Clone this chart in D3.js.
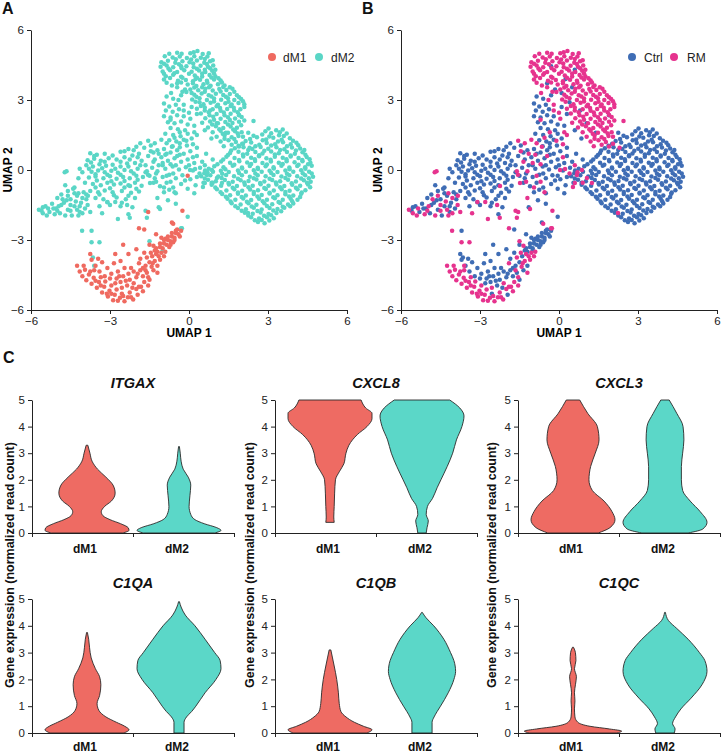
<!DOCTYPE html>
<html><head><meta charset="utf-8">
<script src="https://cdn.jsdelivr.net/npm/d3@7"></script>
<style>body{margin:0;background:#fff}</style>
</head><body>
<svg id="c" width="722" height="756"></svg>
<script>
// ---------- DATA ----------
const umapTicks = [-6, -3, 0, 3, 6];
const clusterNames = ["dM1", "dM2"];
const conditionNames = ["Ctrl", "RM"];

// UMAP cells, grouped by cluster (dM1/dM2) and condition (Ctrl/RM): [UMAP1, UMAP2]
const dm2Ctrl = [
[3.02,1.78],[3.31,1.7],[3.56,1.74],[2.78,1.52],[3.12,1.58],[3.42,1.49],[3.71,1.56],
[2.32,1.33],[2.58,1.4],[2.93,1.31],[3.2,1.38],[3.52,1.3],[3.83,1.36],
[2.02,1.12],[2.36,1.18],[2.67,1.08],[2.95,1.16],[3.27,1.1],[3.57,1.19],[3.86,1.1],[4.08,1.17],
[1.74,0.93],[2.07,0.98],[2.41,0.9],[2.72,0.99],[3.01,0.91],[3.32,0.97],[3.62,0.89],[3.91,0.96],[4.22,0.92],
[1.56,0.73],[1.88,0.78],[2.21,0.7],[2.52,0.77],[2.79,0.71],[3.12,0.79],[3.41,0.72],[3.72,0.77],[4.02,0.7],[4.31,0.76],
[1.42,0.57],[1.73,0.51],[2.06,0.58],[2.36,0.52],[2.66,0.59],[2.94,0.5],[3.26,0.57],[3.56,0.52],[3.86,0.58],[4.16,0.51],[4.47,0.56],
[1.22,0.36],[1.56,0.31],[1.91,0.38],[2.21,0.32],[2.51,0.39],[2.79,0.3],[3.11,0.36],[3.41,0.31],[3.71,0.38],[4.01,0.33],[4.31,0.37],[4.61,0.31],
[0.96,0.16],[1.31,0.12],[1.66,0.18],[2.01,0.11],[2.31,0.17],[2.61,0.1],[2.91,0.16],[3.21,0.12],[3.51,0.18],[3.81,0.11],[4.11,0.17],[4.41,0.12],[4.66,0.18],
[0.61,-0.02],[0.91,-0.08],[1.21,-0.03],[1.51,-0.09],[1.86,-0.02],[2.16,-0.07],[2.46,-0.01],[2.76,-0.08],[3.06,-0.03],[3.36,-0.09],[3.66,-0.02],[3.96,-0.07],[4.26,-0.01],[4.56,-0.08],
[0.46,-0.27],[0.81,-0.22],[1.11,-0.28],[1.41,-0.21],[1.71,-0.27],[2.01,-0.23],[2.31,-0.29],[2.61,-0.22],[2.91,-0.27],[3.21,-0.21],[3.51,-0.28],[3.81,-0.23],[4.11,-0.27],[4.41,-0.22],[4.71,-0.29],
[0.72,-0.42],[1.02,-0.48],[1.36,-0.43],[1.66,-0.5],[1.96,-0.44],[2.26,-0.47],[2.56,-0.41],[2.86,-0.49],[3.16,-0.43],[3.46,-0.48],[3.76,-0.42],[4.06,-0.49],[4.36,-0.44],[4.62,-0.5],
[0.86,-0.63],[1.22,-0.68],[1.52,-0.62],[1.82,-0.69],[2.12,-0.63],[2.42,-0.68],[2.72,-0.61],[3.02,-0.67],[3.32,-0.62],[3.62,-0.69],[3.92,-0.63],[4.22,-0.68],[4.52,-0.62],
[1.06,-0.83],[1.42,-0.88],[1.72,-0.82],[2.02,-0.89],[2.32,-0.84],[2.62,-0.87],[2.92,-0.81],[3.22,-0.88],[3.52,-0.83],[3.82,-0.89],[4.12,-0.82],[4.42,-0.87],
[1.26,-1.03],[1.56,-1.08],[1.86,-1.02],[2.16,-1.09],[2.46,-1.03],[2.76,-1.07],[3.06,-1.01],[3.36,-1.08],[3.66,-1.04],[3.96,-1.09],[4.26,-1.02],
[1.46,-1.23],[1.76,-1.28],[2.06,-1.22],[2.36,-1.29],[2.66,-1.23],[2.96,-1.27],[3.26,-1.21],[3.56,-1.28],[3.86,-1.23],[4.12,-1.27],
[1.62,-1.43],[1.96,-1.48],[2.26,-1.42],[2.56,-1.49],[2.86,-1.43],[3.16,-1.47],[3.46,-1.41],[3.76,-1.48],[3.96,-1.44],
[1.86,-1.63],[2.16,-1.68],[2.46,-1.62],[2.76,-1.69],[3.06,-1.63],[3.36,-1.67],[3.62,-1.62],
[2.12,-1.83],[2.42,-1.88],[2.72,-1.82],[3.02,-1.89],[3.32,-1.84],
[2.36,-2.03],[2.66,-2.08],[2.96,-2.02],[3.22,-2.07],[2.62,-2.23],[2.87,-2.28],
[2.9,1.66],[3.45,1.62],[2.45,1.47],[3.05,1.44],[3.6,1.46],[2.15,1.24],[2.8,1.27],[3.38,1.22],[3.95,1.25],
[1.88,1.04],[2.52,1.02],[3.12,1.05],[3.72,1.02],[4.15,1.06],[1.6,0.84],[2.25,0.86],[2.86,0.83],[3.46,0.86],[4.06,0.84],[4.38,0.86],
[1.48,0.64],[2.05,0.66],[2.66,0.63],[3.26,0.66],[3.86,0.62],[4.42,0.65],[1.3,0.45],[1.9,0.43],[2.5,0.46],[3.1,0.44],[3.7,0.46],[4.3,0.43],[4.58,0.46],
[1.08,0.25],[1.72,0.23],[2.36,0.26],[2.96,0.24],[3.56,0.26],[4.16,0.23],[4.52,0.25],
[0.75,0.05],[1.38,0.03],[2.02,0.06],[2.62,0.04],[3.22,0.06],[3.82,0.03],[4.42,0.05],
[0.58,-0.14],[1.26,-0.16],[1.9,-0.13],[2.52,-0.15],[3.12,-0.13],[3.72,-0.16],[4.32,-0.14],[4.66,-0.15],
[0.6,-0.36],[1.24,-0.34],[1.86,-0.37],[2.46,-0.35],[3.06,-0.37],[3.66,-0.34],[4.26,-0.36],[4.55,-0.35],
[0.86,-0.55],[1.5,-0.56],[2.1,-0.54],[2.7,-0.56],[3.3,-0.54],[3.9,-0.57],[4.48,-0.55],
[1.0,-0.75],[1.66,-0.76],[2.26,-0.74],[2.86,-0.77],[3.46,-0.74],[4.06,-0.76],[4.6,-0.74],
[1.2,-0.95],[1.86,-0.96],[2.46,-0.94],[3.06,-0.97],[3.66,-0.94],[4.28,-0.96],
[1.4,-1.15],[2.0,-1.16],[2.6,-1.14],[3.2,-1.17],[3.8,-1.14],[4.22,-1.16],
[1.58,-1.35],[2.2,-1.36],[2.8,-1.34],[3.4,-1.37],[3.92,-1.34],
[1.76,-1.55],[2.38,-1.56],[2.96,-1.54],[3.56,-1.57],[3.84,-1.55],
[2.0,-1.75],[2.6,-1.76],[3.2,-1.74],[3.5,-1.77],[2.25,-1.95],[2.85,-1.96],[3.12,-1.94],[2.5,-2.15],[2.76,-2.14],[3.05,-2.16],
[-0.85,3.15],[-0.6,3.05],[-0.95,2.85],[-0.75,2.72],[-0.5,2.8],[-0.88,2.55],[-0.62,2.5],[-0.38,2.6],[-0.95,2.3],[-0.7,2.25],
[-0.45,2.35],[-0.2,2.3],[-0.8,2.05],[-0.55,2.0],[-0.3,2.08],[-0.05,1.95],[-0.7,1.8],[-0.42,1.75],[-0.15,1.7],[-0.9,1.55],
[-0.6,1.5],[-0.32,1.45],[-0.05,1.55],[-0.75,1.28],[-0.48,1.22],[-0.2,1.3],[0.1,1.35],[-0.62,1.02],[-0.35,0.98],[-0.08,1.05],
[-0.45,3.72],[-0.15,3.45],[0.25,3.9],[0.6,4.3],[-0.3,4.45],[0.1,3.3],[-0.3,3.2],[0.4,2.9],[0.1,2.7],[0.8,2.55],
[0.5,3.55],[1.05,2.0],[0.3,2.4],[0.6,1.7],[0.2,1.9],[1.4,1.6],[1.9,2.35],[2.25,1.6],[0.85,1.35],
[-1.7,0.95],[-1.45,1.05],[-1.2,0.85],[-0.95,0.9],[-0.7,0.75],[-0.45,0.85],[-0.2,0.7],[0.05,0.8],[0.3,0.6],[-1.55,0.6],
[-1.3,0.45],[-1.05,0.55],[-0.8,0.4],[-0.55,0.5],[-0.3,0.35],[-0.05,0.45],[0.2,0.3],[0.5,0.35],[-1.65,0.2],[-1.4,0.1],
[-1.15,0.2],[-0.9,0.05],[-0.62,0.15],[-0.38,0.02],[-0.12,0.12],[0.15,-0.02],[0.42,0.1],[-1.5,-0.25],[-1.25,-0.15],[-1.0,-0.3],
[-0.75,-0.2],[-0.5,-0.35],[-0.25,-0.22],[0.05,-0.4],[0.3,-0.3],[-1.35,-0.55],[-1.1,-0.7],[-0.85,-0.55],[-0.6,-0.75],[-0.3,-0.6],
[-0.05,-0.8],[0.25,-0.65],[-0.95,-0.95],[-0.5,-1.0],[0.55,-0.55],[0.2,-1.0],
[-1.35,0.75],[-0.85,0.7],[-0.35,0.65],[-1.0,0.2],[-0.5,0.2],[0.0,0.2],[-1.3,-0.35],[-0.6,-0.15],[-0.15,-0.45],[-0.75,-0.85],
[-0.35,1.15],[0.3,0.95],[0.65,0.7],[0.9,0.45],
[-3.75,0.72],[-3.5,0.65],[-3.2,0.7],[-2.3,0.9],[-2.0,1.0],[-1.85,1.15],[-2.6,0.78],
[-3.85,0.42],[-3.6,0.48],[-3.35,0.4],[-3.05,0.5],[-2.75,0.45],[-2.45,0.55],[-2.15,0.62],[-1.9,0.7],
[-3.9,0.2],[-3.65,0.15],[-3.4,0.25],[-3.15,0.18],[-2.9,0.22],[-2.6,0.15],[-2.35,0.28],[-2.05,0.3],[-1.8,0.4],
[-3.7,-0.08],[-3.45,-0.02],[-3.2,-0.1],[-2.95,-0.03],[-2.7,-0.12],[-2.45,0.0],[-2.2,-0.05],[-1.95,0.05],
[-3.8,-0.32],[-3.55,-0.28],[-3.25,-0.35],[-3.0,-0.27],[-2.75,-0.38],[-2.5,-0.3],[-2.25,-0.35],[-2.0,-0.25],[-1.75,-0.3],
[-3.65,-0.6],[-3.35,-0.65],[-3.1,-0.55],[-2.85,-0.62],[-2.6,-0.58],[-2.3,-0.65],[-2.05,-0.55],[-1.8,-0.68],
[-3.75,-0.9],[-3.45,-0.95],[-3.2,-0.88],[-2.9,-0.95],[-2.55,-0.9],[-2.2,-0.98],[-1.9,-0.92],
[-3.55,-1.2],[-3.25,-1.25],[-2.75,-1.18],[-2.4,-1.25],[-2.05,-1.2],[-3.4,-1.55],[-3.0,-1.5],[-2.6,-1.55],[-2.15,-1.6],
[-3.6,0.6],[-2.9,0.62],[-2.45,0.8],[-2.1,0.85],[-3.72,0.32],[-3.2,0.35],[-2.6,0.35],[-2.25,0.45],[-1.95,0.55],
[-3.8,0.05],[-3.3,0.08],[-2.8,0.05],[-2.3,0.15],[-1.85,0.2],[-3.55,-0.18],[-3.1,-0.2],[-2.6,-0.2],[-2.1,-0.15],[-1.65,-0.1],
[-3.5,-0.45],[-2.95,-0.48],[-2.45,-0.47],[-1.95,-0.42],[-3.55,-0.75],[-3.0,-0.78],[-2.45,-0.75],[-2.0,-0.8],
[-3.4,-1.05],[-2.85,-1.08],[-2.3,-1.1],[-3.1,-1.38],[-2.55,-1.4],
[-4.15,0.05],[-4.05,-0.1],[-4.2,-0.35],[-3.95,-0.55],[-4.35,-0.75],
[-5.45,-1.55],[-5.2,-1.45],[-5.0,-1.2],[-4.85,-1.05],[-4.6,-0.9],[-4.4,-0.8],[-5.3,-1.8],[-5.05,-1.65],[-4.75,-1.4],[-4.5,-1.25],
[-4.25,-1.1],[-4.0,-0.95],[-4.9,-1.85],[-4.6,-1.7],[-4.35,-1.55],[-4.1,-1.4],[-3.9,-1.25],[-4.45,-1.95],[-4.15,-1.8],[-3.95,-1.65],
[-4.7,-0.65],[-5.6,-1.75],[-5.55,-1.6],[-5.15,-1.65],[-4.85,-1.5],[-4.65,-1.3],[-4.35,-1.0],[-4.15,-1.55],[-3.9,-1.05],
[-3.7,-2.6],[-3.65,-3.75],[-1.0,-3.45],[-0.05,-2.0],[-1.15,-1.6],[-0.5,-1.45],[-2.3,-1.9],[-0.8,-1.3]
];

const dm2RM = [
[0.32,5.1],[-0.28,4.98],[0.05,5.0],[0.52,4.97],
[-0.92,4.88],[-0.62,4.82],[-0.35,4.86],[-0.08,4.8],[0.2,4.87],[0.45,4.81],[0.7,4.86],
[-1.05,4.62],[-0.8,4.68],[-0.52,4.6],[-0.25,4.66],[0.02,4.62],[0.3,4.69],[0.58,4.6],[0.8,4.66],
[-1.08,4.42],[-0.85,4.48],[-0.6,4.4],[-0.1,4.45],[0.18,4.4],[0.44,4.47],[0.72,4.42],[0.92,4.48],
[-1.0,4.22],[-0.72,4.28],[-0.45,4.2],[-0.18,4.27],[0.1,4.21],[0.38,4.26],[0.62,4.2],[0.88,4.25],
[-0.88,4.02],[-0.6,4.08],[-0.3,4.0],[0.22,4.05],[0.5,4.01],[0.78,4.07],[1.0,4.02],
[-0.95,3.88],[-0.42,3.82],[-0.12,3.86],[0.15,3.8],[0.42,3.87],[0.68,3.82],[0.95,3.88],[1.2,3.84],
[-0.65,3.62],[-0.05,3.66],[0.28,3.6],[0.55,3.68],[0.82,3.61],[1.1,3.67],[1.35,3.62],
[0.05,3.45],[0.35,3.42],[0.62,3.48],[0.9,3.41],[1.15,3.47],[1.42,3.43],[1.65,3.48],
[0.2,3.22],[0.48,3.28],[0.75,3.2],[1.02,3.27],[1.3,3.21],[1.55,3.26],[1.82,3.2],
[0.12,3.02],[0.4,3.08],[0.68,3.0],[0.95,3.06],[1.22,3.01],[1.48,3.07],[1.72,3.0],[1.98,3.04],
[0.55,2.82],[0.82,2.88],[1.1,2.8],[1.38,2.86],[1.62,2.81],[1.88,2.87],[2.1,2.82],
[0.3,2.62],[0.6,2.68],[0.9,2.6],[1.18,2.66],[1.45,2.61],[1.7,2.67],[1.95,2.6],
[0.45,2.42],[0.75,2.48],[1.05,2.4],[1.32,2.46],[1.58,2.41],[1.85,2.47],
[0.62,2.22],[0.92,2.28],[1.2,2.2],[1.48,2.26],[1.75,2.21],[2.0,2.27],
[0.5,2.02],[0.8,2.08],[1.1,2.0],[1.38,2.06],[1.65,2.01],[1.9,2.07],
[0.72,1.82],[1.02,1.88],[1.3,1.8],[1.58,1.86],[1.82,1.81],
[0.9,1.62],[1.2,1.68],[1.48,1.6],[1.75,1.66],[2.0,1.62],
[1.05,1.42],[1.35,1.48],[1.62,1.4],[1.88,1.46],
[1.2,1.22],[1.5,1.28],[1.78,1.2],[1.32,1.02],[1.62,1.08],[1.9,1.01],
[-0.75,4.98],[-0.45,5.02],[0.18,5.05],[0.75,5.0],[-0.5,4.75],[0.08,4.74],[0.6,4.76],[0.9,4.7],
[-0.95,4.55],[-0.38,4.53],[0.16,4.56],[0.68,4.54],[-0.78,4.35],[-0.28,4.36],[0.3,4.34],[0.8,4.36],[1.0,4.3],
[-0.95,4.12],[-0.56,4.15],[0.0,4.13],[0.5,4.14],[0.95,4.14],[-0.72,3.94],[-0.25,3.95],[0.3,3.95],[0.85,3.96],[1.12,3.93],
[-0.85,3.74],[-0.3,3.75],[0.15,3.72],[0.7,3.74],[1.25,3.75],[-0.45,3.55],[0.2,3.54],[0.76,3.55],[1.3,3.56],[1.55,3.55],
[-0.1,3.34],[0.6,3.35],[1.2,3.36],[1.72,3.35],[0.28,3.14],[0.85,3.15],[1.4,3.14],[1.9,3.12],
[0.25,2.92],[0.95,2.94],[1.5,2.93],[2.05,2.95],[0.45,2.74],[1.05,2.73],[1.58,2.74],[2.1,2.7],
[0.6,2.55],[1.2,2.54],[1.72,2.55],[0.78,2.35],[1.35,2.35],[1.9,2.36],[0.95,2.15],[1.55,2.14],[2.1,2.12],
[0.88,1.95],[1.48,1.95],[1.98,1.92],[1.15,1.75],[1.68,1.74],[1.28,1.55],[1.85,1.56],[1.35,1.34],[1.72,1.33],
[2.45,2.1],[2.05,1.12],[0.3,1.5],[0.05,2.2],[-0.2,2.8],[0.15,1.1],[2.3,0.95],[2.05,1.42],
[-0.68,3.3],[-0.4,3.0],[-0.2,2.55],[-0.7,2.15],[0.0,2.45],[-0.35,1.62],[-0.1,1.25],[0.2,1.62],[-0.55,1.38],[-0.25,3.35],
[-1.55,1.25],[-1.3,1.15],[-1.05,1.3],[-0.85,1.15],[-1.45,0.8],[-1.15,0.7],[-0.9,0.65],[-0.65,1.0],[-1.35,0.35],[-1.0,0.3],
[-0.7,0.25],[-1.2,-0.05],[-0.85,-0.25],[-0.45,0.6],[-1.25,-0.5],[-0.7,-0.5],[-0.95,-0.75],[0.15,0.55],[0.4,-0.15],[0.6,0.2],
[0.7,-0.1],[0.9,-0.55],[-1.6,-0.05],[-0.55,-0.95],
[0.04,0.0],[0.23,0.04],[0.68,-0.21],[0.6,-0.56],[0.87,0.0],[1.06,-0.34],[1.25,-0.56],[0.53,-0.73],[2.24,-1.84],[-0.27,-2.5],
[-5.7,-1.7],[-5.55,-1.85],[-5.35,-1.65],[-5.1,-1.9],[-4.95,-1.55],[-4.7,-1.95],[-4.5,-1.5],[-4.25,-1.7],[-4.05,-1.85],[-3.85,-1.5],
[-3.75,-1.8],[-4.8,-1.25],[-4.6,-1.1],[-4.3,-1.35],[-4.05,-1.2],[-4.65,-0.05],[-4.72,-0.1],
[-5.4,-1.95],[-5.0,-1.75],[-4.5,-1.75],[-4.2,-1.95],
[-3.4,-3.1],[-3.6,-4.1],[-1.5,-3.05],[-0.3,-2.5],[-1.65,-1.75],[-2.7,-2.1],[-2.25,-2.05],[-1.6,-2.05],[-1.1,-1.67],[-2.8,-1.37],
[-3.1,-1.37],[-2.35,-1.5],[-3.3,-1.85],[-4.06,-2.6],[-3.7,-3.1],[-1.2,-1.2],[-2.24,-0.69],[-1.56,-0.2],[-1.48,-0.56],[-4.2,-1.0],[-3.84,-1.1]
];

const dm1Ctrl = [
[-0.3,-2.6],[-0.4,-2.75],[-0.5,-2.7],[-0.55,-2.9],[-0.65,-2.85],[-0.7,-3.05],[-0.8,-3.0],[-0.85,-3.2],[-0.95,-3.15],[-1.0,-3.35],
[-1.1,-3.3],[-0.45,-2.55],[-0.6,-3.1],[-0.9,-2.95],[-1.2,-3.5],[-1.3,-3.45],[-0.75,-3.3],[-1.05,-2.9],[-0.35,-2.85],
[-1.4,-3.7],[-1.5,-3.95],[-1.65,-4.1],[-1.6,-4.4],[-1.75,-4.55],[-1.85,-4.3],[-2.0,-4.6],[-2.1,-4.35],[-2.25,-4.7],[-2.3,-4.45],
[-2.45,-4.2],[-2.5,-4.55],[-2.6,-4.8],[-2.7,-4.35],[-2.75,-4.65],[-2.85,-4.0],[-2.95,-4.45],[-3.1,-4.2],[-3.3,-3.95],[-3.55,-4.1],
[-3.7,-3.85],[-3.75,-3.6],[-3.45,-3.8],[-2.15,-5.05],[-2.35,-4.95],[-1.5,-4.7],[-1.35,-4.3],[-1.2,-4.1],[-2.6,-3.9],[-2.3,-3.6],
[-2.0,-3.4],[-1.7,-3.55],[-2.5,-3.2],[-2.8,-3.6],[-1.85,-3.8],[-1.5,-3.2],[-3.2,-4.55],[-3.4,-4.35],[-1.95,-5.35],[-2.55,-5.3],
[-0.5,-2.6],[-0.65,-2.7],[-0.8,-2.85],[-0.95,-3.0],[-1.1,-3.15],[-1.25,-3.35],[-0.55,-3.0],[-0.7,-3.2],[-2.2,-4.2],[-2.4,-4.75],
[-2.8,-4.85],[-1.95,-4.45],[-1.75,-4.2],[-3.0,-4.65],[-2.65,-4.55],
[-0.05,-0.25],[-1.7,-2.55],[-1.25,-2.75],[-0.65,-2.25]
];

const dm1RM = [
[-4.15,-4.35],[-3.95,-4.28],[-4.05,-4.55],[-3.8,-4.48],[-3.9,-4.72],[-3.62,-4.62],[-3.7,-4.88],[-3.42,-4.8],[-3.5,-5.05],[-3.22,-5.0],
[-3.3,-5.25],[-3.02,-5.18],[-3.08,-5.42],[-2.82,-5.35],[-2.88,-5.58],[-2.62,-5.48],[-2.45,-5.62],[-2.32,-5.45],[-2.12,-5.55],[-2.0,-5.1],
[-1.82,-5.0],[-2.25,-5.25],[-2.75,-5.12],[-2.95,-4.95],[-3.18,-4.78],[-3.35,-4.6],[-1.7,-4.8],[-1.55,-4.95],[-1.65,-4.3],[-1.42,-4.15],
[-1.3,-3.9],[-1.15,-3.7],[-1.05,-3.55],[-1.25,-3.6],[-1.45,-3.55],[-1.6,-3.75],[-0.9,-3.5],[-1.35,-3.25],[-0.6,-2.3],[-1.75,-5.2],
[-2.55,-5.05],[-4.25,-4.1],[-3.6,-4.3],[-2.1,-4.85],[-1.9,-4.0],[-1.2,-4.4],
[-4.0,-4.1],[-3.75,-4.35],[-3.55,-4.75],[-3.35,-4.95],[-3.12,-5.3],[-2.95,-5.3],[-2.7,-5.6],[-2.5,-5.4],[-2.2,-5.45],[-1.9,-5.0],
[-1.55,-4.6],[-1.38,-4.0],[-1.1,-3.85],[-0.95,-3.7],
[-1.55,-1.8],[-1.9,-2.5],[-0.25,-1.75]
];

// Violin density profiles: [expression value, relative half-width]
const violinYTicks = [0, 1, 2, 3, 4, 5];
const genes = ["ITGAX", "CXCL8", "CXCL3", "C1QA", "C1QB", "C1QC"];
const itgaxDM1 = [[0,0.85],[0.1,1.0],[0.2,0.98],[0.35,0.8],[0.5,0.55],[0.65,0.38],[0.8,0.34],[1.0,0.42],[1.2,0.58],[1.5,0.67],[1.8,0.62],[2.1,0.45],[2.4,0.25],[2.7,0.12],[3.0,0.07],[3.3,0.02]];
const itgaxDM2 = [[0,0.85],[0.1,1.0],[0.2,0.9],[0.35,0.6],[0.5,0.38],[0.7,0.28],[1.0,0.24],[1.4,0.26],[1.8,0.28],[2.1,0.22],[2.4,0.1],[2.7,0.05],[3.0,0.03],[3.25,0.01]];
const cxcl8DM1 = [[0.4,0.1],[0.6,0.09],[1.0,0.1],[1.5,0.11],[2.0,0.13],[2.3,0.22],[2.6,0.33],[3.0,0.38],[3.3,0.45],[3.7,0.65],[4.0,0.88],[4.3,1.0],[4.5,1.0],[4.7,0.85],[5.0,0.74]];
const cxcl8DM2 = [[0,0.1],[0.2,0.12],[0.45,0.15],[0.7,0.1],[1.0,0.13],[1.3,0.25],[1.7,0.36],[2.0,0.45],[2.5,0.6],[3.0,0.73],[3.5,0.82],[4.0,0.95],[4.4,1.0],[4.7,0.9],[5.0,0.66]];
const cxcl3DM1 = [[0,0.6],[0.2,0.88],[0.5,1.0],[0.8,0.93],[1.2,0.74],[1.6,0.46],[2.0,0.38],[2.5,0.42],[3.0,0.53],[3.5,0.62],[4.0,0.58],[4.5,0.35],[5.0,0.16]];
const cxcl3DM2 = [[0,0.55],[0.15,0.9],[0.4,1.0],[0.8,0.84],[1.2,0.6],[1.6,0.42],[2.0,0.39],[2.5,0.39],[3.0,0.42],[3.5,0.45],[4.0,0.43],[4.5,0.28],[5.0,0.1]];
const c1qaDM1 = [[0,0.88],[0.12,1.0],[0.25,0.9],[0.4,0.7],[0.6,0.45],[0.85,0.28],[1.1,0.24],[1.4,0.3],[1.8,0.33],[2.1,0.3],[2.4,0.2],[2.8,0.1],[3.2,0.06],[3.5,0.04],[3.75,0.01]];
const c1qaDM2 = [[0,0.12],[0.4,0.12],[0.6,0.18],[0.8,0.3],[1.0,0.4],[1.5,0.62],[2.0,0.88],[2.4,1.0],[2.7,0.98],[3.0,0.85],[3.5,0.62],[4.0,0.38],[4.4,0.15],[4.7,0.05],[4.9,0.01]];
const c1qbDM1 = [[0,0.88],[0.12,1.0],[0.25,0.8],[0.4,0.58],[0.6,0.38],[0.8,0.26],[1.1,0.22],[1.5,0.2],[2.0,0.16],[2.5,0.1],[2.8,0.06],[3.1,0.02]];
const c1qbDM2 = [[0,0.3],[0.4,0.3],[0.6,0.36],[0.8,0.45],[1.0,0.55],[1.5,0.78],[2.0,0.95],[2.3,1.0],[2.7,0.95],[3.0,0.85],[3.5,0.65],[4.0,0.35],[4.3,0.12],[4.5,0.01]];
const c1qcDM1 = [[0,0.9],[0.07,1.0],[0.15,0.75],[0.25,0.35],[0.4,0.1],[0.6,0.04],[0.9,0.03],[1.2,0.04],[1.5,0.03],[1.8,0.05],[2.1,0.07],[2.4,0.03],[2.7,0.06],[3.0,0.05],[3.2,0.01]];
const c1qcDM2 = [[0,0.22],[0.15,0.24],[0.35,0.18],[0.6,0.25],[0.9,0.38],[1.3,0.62],[1.8,0.88],[2.3,1.0],[2.7,0.95],[3.0,0.82],[3.5,0.55],[3.9,0.28],[4.2,0.08],[4.5,0.01]];
// relative maximum width of each violin (dM1, dM2)
const violinMaxWidth = {
  ITGAX: [1.0, 1.0], CXCL8: [1.0, 1.0], CXCL3: [1.0, 1.0],
  C1QA: [1.0, 1.0], C1QB: [1.0, 0.8], C1QC: [1.16, 1.0]
};
const violinProfiles = {
  ITGAX: [itgaxDM1, itgaxDM2], CXCL8: [cxcl8DM1, cxcl8DM2], CXCL3: [cxcl3DM1, cxcl3DM2],
  C1QA: [c1qaDM1, c1qaDM2], C1QB: [c1qbDM1, c1qbDM2], C1QC: [c1qcDM1, c1qcDM2]
};

// ---------- STYLE ----------
const FONT = "'Liberation Sans', Arial, Helvetica, sans-serif";
const colDM1 = "#EF6A60", colDM2 = "#5AD6C6";
const colCtrl = "#3F6DB5", colRM = "#E6338E";
const vDM1 = "#EE6B63", vDM2 = "#5BD7C8";

const svg = d3.select("#c");

function styleAxis(g, fs) {
  g.selectAll("path.domain").attr("stroke", "#222").attr("stroke-width", 1);
  g.selectAll(".tick line").attr("stroke", "#222").attr("stroke-width", 1);
  g.selectAll(".tick text").attr("font-family", FONT).attr("font-size", fs).attr("fill", "#222");
}

function panelLabel(txt, x, y) {
  svg.append("text").attr("x", x).attr("y", y).text(txt)
    .attr("font-family", FONT).attr("font-weight", "bold").attr("font-size", 16).attr("fill", "#111");
}

// ---------- UMAP PANELS ----------
function umapPanel(left, layers, legendItems) {
  const x = d3.scaleLinear().domain([-6, 6]).range([left, left + 316]);
  const y = d3.scaleLinear().domain([-6, 6]).range([310, 30]);
  const g = svg.append("g");
  layers.forEach(([pts, col]) => {
    g.append("g").selectAll("circle").data(pts).join("circle")
      .attr("cx", d => x(d[0])).attr("cy", d => y(d[1])).attr("r", 2.25).attr("fill", col);
  });
  const ax = g.append("g").attr("transform", "translate(0,310)")
    .call(d3.axisBottom(x).tickValues(umapTicks).tickSize(4).tickSizeOuter(0).tickPadding(3).tickFormat(d3.format("d")));
  styleAxis(ax, 11.5);
  const ay = g.append("g").attr("transform", `translate(${left},0)`)
    .call(d3.axisLeft(y).tickValues(umapTicks).tickSize(4).tickSizeOuter(0).tickPadding(3).tickFormat(d3.format("d")));
  styleAxis(ay, 11.5);
  g.append("text").attr("x", x(0)).attr("y", 337).attr("text-anchor", "middle")
    .attr("font-family", FONT).attr("font-weight", "bold").attr("font-size", 12).text("UMAP 1");
  g.append("text").attr("transform", `translate(${left - 19},${y(0)}) rotate(-90)`)
    .attr("text-anchor", "middle").attr("font-family", FONT).attr("font-weight", "bold")
    .attr("font-size", 12).text("UMAP 2");
  legendItems.forEach(([name, col, cxp, txp]) => {
    g.append("circle").attr("cx", cxp).attr("cy", 57).attr("r", 4).attr("fill", col);
    g.append("text").attr("x", txp).attr("y", 61.5).attr("font-family", FONT)
      .attr("font-size", 12).attr("fill", "#222").text(name);
  });
}

panelLabel("A", 2, 14);
umapPanel(31, [[dm2Ctrl, colDM2], [dm2RM, colDM2], [dm1Ctrl, colDM1], [dm1RM, colDM1]],
  [[clusterNames[0], colDM1, 272, 283], [clusterNames[1], colDM2, 319, 331]]);
panelLabel("B", 362, 14);
umapPanel(401, [[dm2Ctrl, colCtrl], [dm1Ctrl, colCtrl], [dm2RM, colRM], [dm1RM, colRM]],
  [[conditionNames[0], colCtrl, 632, 644], [conditionNames[1], colRM, 674, 687]]);

// ---------- VIOLIN PANELS ----------
panelLabel("C", 3, 363);
const colX = [32, 275, 518];
const rows = [{ top: 400, bot: 533, title: 388, lab: 553 }, { top: 599, bot: 733, title: 588, lab: 751 }];
const PW = 202, MAXHALF = 42;

genes.forEach((gene, i) => {
  const x0 = colX[i % 3], r = rows[Math.floor(i / 3)];
  const g = svg.append("g");
  const y = d3.scaleLinear().domain([0, 5]).range([r.bot, r.top]);
  const band = d3.scaleBand().domain(clusterNames).range([x0 + 9, x0 + PW - 9]);
  const edge = d3.scaleLinear().domain([0, 2]).range([x0, x0 + PW]);
  const fills = [vDM1, vDM2];
  clusterNames.forEach((c, k) => {
    const cx = band(c) + band.bandwidth() / 2;
    const s = violinMaxWidth[gene][k] * MAXHALF;
    const area = d3.area().curve(d3.curveMonotoneY)
      .y(d => y(d[0])).x0(d => cx - d[1] * s).x1(d => cx + d[1] * s);
    g.append("path").attr("d", area(violinProfiles[gene][k]))
      .attr("fill", fills[k]).attr("stroke", "#2a2a2a").attr("stroke-width", 0.9);
  });
  const ay = g.append("g").attr("transform", `translate(${x0},0)`)
    .call(d3.axisLeft(y).tickValues(violinYTicks).tickSize(4).tickSizeOuter(0).tickPadding(3).tickFormat(d3.format("d")));
  styleAxis(ay, 11.5);
  const ax = g.append("g").attr("transform", `translate(0,${r.bot})`)
    .call(d3.axisBottom(edge).tickValues([0, 1, 2]).tickSize(4).tickSizeOuter(0).tickFormat(""));
  styleAxis(ax, 11.5);
  clusterNames.forEach(c => {
    g.append("text").attr("x", band(c) + band.bandwidth() / 2 - 2).attr("y", r.lab)
      .attr("text-anchor", "middle").attr("font-family", FONT).attr("font-weight", "bold")
      .attr("font-size", 12).attr("fill", "#111").text(c);
  });
  g.append("text").attr("x", x0 + PW / 2).attr("y", r.title).attr("text-anchor", "middle")
    .attr("font-family", FONT).attr("font-weight", "bold").attr("font-style", "italic")
    .attr("font-size", 14.5).attr("fill", "#111").text(gene);
});

[10, 250, 492].forEach(xc => {
  svg.append("text").attr("transform", `translate(${xc},565) rotate(-90)`)
    .attr("text-anchor", "middle").attr("dominant-baseline", "central")
    .attr("font-family", FONT).attr("font-weight", "bold").attr("font-size", 12.5).attr("fill", "#111")
    .text("Gene expression (normalized read count)");
});
</script>
</body></html>
